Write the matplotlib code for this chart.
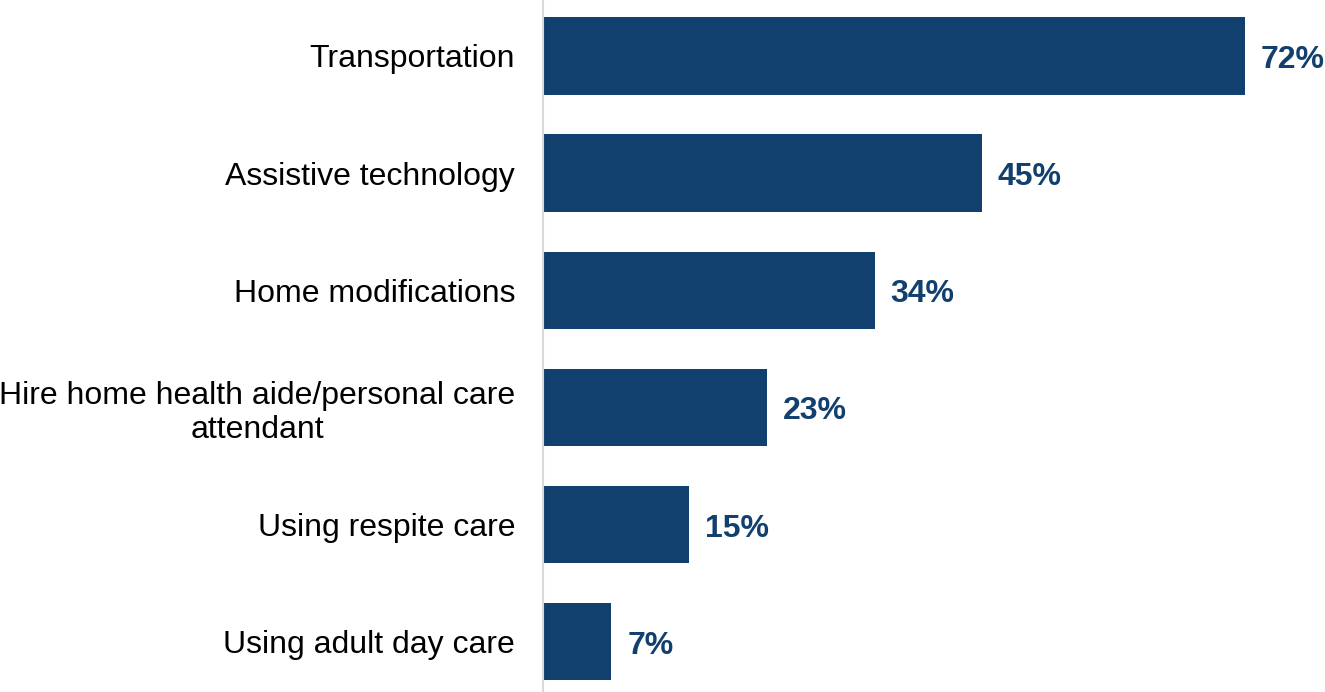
import matplotlib
matplotlib.use("Agg")
import matplotlib.pyplot as plt

categories = ["Transportation", "Assistive technology", "Home modifications",
              "Hire home health aide/personal care\nattendant", "Using respite care",
              "Using adult day care"]
values = [72, 45, 34, 23, 15, 7]
labels = ["72%", "45%", "34%", "23%", "15%", "7%"]

bar_color = "#12406E"
plt.rcParams['font.family'] = ['Liberation Sans', 'DejaVu Sans']

fig = plt.figure(figsize=(13.25, 6.92), dpi=100)
ax = fig.add_axes([543/1325, 0, 1 - 543/1325, 1])
y = list(range(len(categories)))
ax.barh(y, values, height=0.66, color=bar_color, left=0)
ax.set_xlim(0, 80.2)
ax.set_ylim(5.43, -0.478)

for yi, v, lab in zip(y, values, labels):
    ax.annotate(lab, xy=(v, yi), xytext=(16, -4), textcoords="offset pixels",
                ha="left", va="center", fontsize=23, fontweight="bold",
                color=bar_color, annotation_clip=False)

ax.set_yticks(y)
ax.set_yticklabels(categories, fontsize=23, color="black", ha="right",
                   multialignment="center", linespacing=1.2)
ax.tick_params(axis="y", length=0, pad=20)
ax.tick_params(axis="x", bottom=False, labelbottom=False)
for s in ["top", "right", "bottom"]:
    ax.spines[s].set_visible(False)
ax.spines["left"].set_color("#d9d9d9")
ax.spines["left"].set_linewidth(1.5)

fig.savefig("out.png", dpi=100)
